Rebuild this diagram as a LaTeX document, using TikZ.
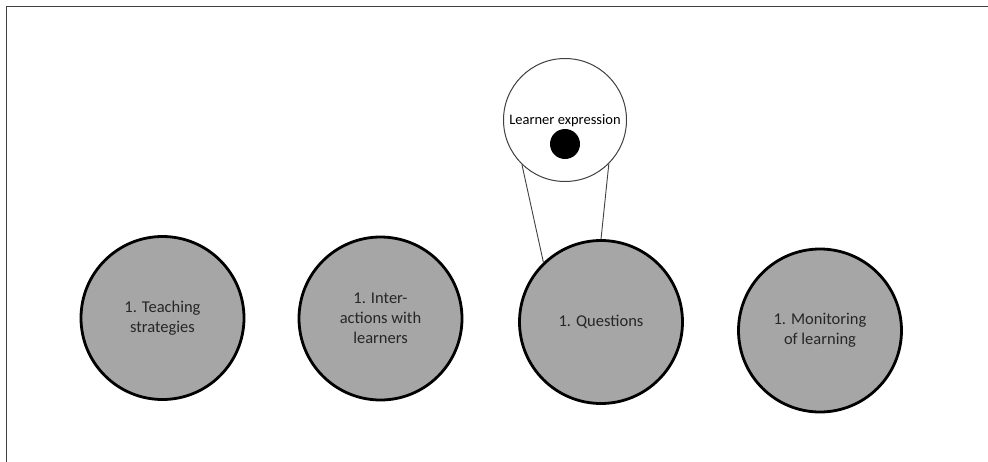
\documentclass[tikz,border=0pt]{standalone}
\usepackage{fontspec}
\setmainfont{Carlito}
\definecolor{circfill}{HTML}{A6A6A6}
\definecolor{txt}{HTML}{262626}
\definecolor{frame}{HTML}{404040}
\tikzset{
  bigc/.style={circle, draw=black, line width=2.8pt, fill=circfill, minimum size=163pt, inner sep=0pt, align=center, text=txt, font=\fontsize{16.5}{20}\selectfont},
  smallc/.style={circle, draw=frame, line width=1pt, fill=white, minimum size=123pt, inner sep=0pt},
  link/.style={draw=frame, line width=0.9pt},
}
\begin{document}
\begin{tikzpicture}[x=1pt,y=-1pt]
\useasboundingbox (0,0) rectangle (988,461);
\draw[frame, line width=1.6pt] (6.5,470) -- (6.5,6.5) -- (1000,6.5);
\node[bigc] (teach) at (162.5,318) {1. Teaching\\strategies};
\node[bigc] (inter) at (380.5,318.5) {1. Inter-\\actions with\\learners};
\node[bigc] (quest) at (601,322) {1. Questions};
\node[bigc] (monit) at (820,330.5) {1. Monitoring\\of learning};
\node[smallc] (learn) at (565,120) {};
\node[font=\fontsize{14.5}{17}\selectfont, text=black, inner sep=0pt] (ltext) at (565,121) {Learner expression};
\fill[black] (565,144) circle (15) node (dot) {};
\draw[link] (learn.226) -- (quest.134);
\draw[link] (learn.-45) -- (quest.90);
\end{tikzpicture}
\end{document}
